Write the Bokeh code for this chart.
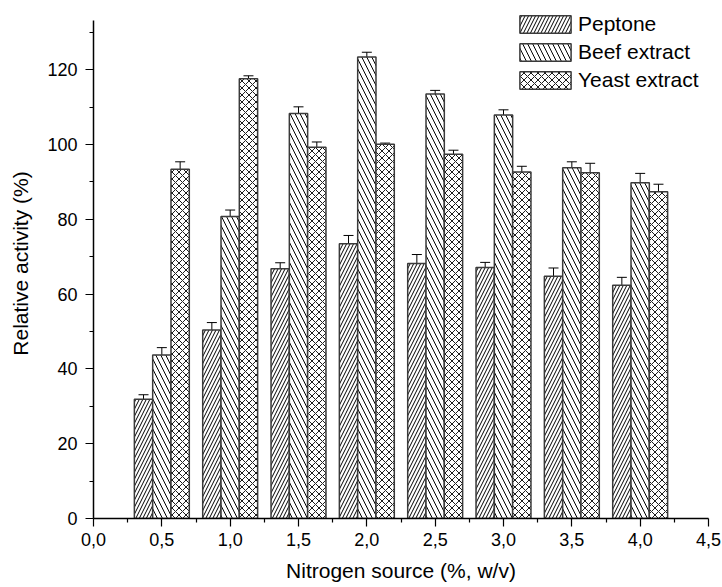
from bokeh.plotting import figure
from bokeh.models import ColumnDataSource, Whisker, TeeHead, Legend, LegendItem, CustomJSTickFormatter, FixedTicker, Range1d
from bokeh.embed import file_html
from bokeh.resources import INLINE

# ---- data ----
conc = [0.5, 1.0, 1.5, 2.0, 2.5, 3.0, 3.5, 4.0]
peptone = [31.9, 50.4, 66.8, 73.5, 68.2, 67.1, 64.8, 62.4]
peptone_err = [1.2, 2.0, 1.6, 2.2, 2.4, 1.4, 2.2, 2.1]
beef = [43.7, 80.8, 108.3, 123.4, 113.5, 107.9, 93.8, 89.8]
beef_err = [2.0, 1.7, 1.8, 1.3, 1.0, 1.4, 1.6, 2.5]
yeast = [93.4, 117.6, 99.3, 100.1, 97.4, 92.7, 92.5, 87.4]
yeast_err = [2.0, 0.8, 1.4, 0.3, 1.1, 1.5, 2.5, 2.0]
series_names = ["Peptone", "Beef extract", "Yeast extract"]
x_ticks = [0.0, 0.5, 1.0, 1.5, 2.0, 2.5, 3.0, 3.5, 4.0, 4.5]
y_ticks = [0, 20, 40, 60, 80, 100, 120]
y_axis_top = 133.2

BAR_W = 0.134
FONT = "Liberation Sans"

p = figure(frame_width=615, frame_height=510, min_border_left=93, min_border_top=8,
           min_border_right=14, min_border_bottom=10,
           x_range=Range1d(0, 4.5), y_range=Range1d(0, 136.4),
           output_backend="svg", toolbar_location=None)
p.outline_line_color = None
p.xgrid.grid_line_color = None
p.ygrid.grid_line_color = None
p.background_fill_color = "white"

series = [(peptone, peptone_err, -1, "right_diagonal_line", 7, 1.0),
          (beef, beef_err, 0, "left_diagonal_line", 10, 1.0),
          (yeast, yeast_err, 1, "diagonal_cross", 7, 0.9)]

items = []
for (vals, errs, k, hatch, scale, hw), name in zip(series, series_names):
    xs = [c + k * BAR_W for c in conc]
    src = ColumnDataSource(dict(x=xs, top=vals,
                                upper=[v + e for v, e in zip(vals, errs)],
                                lower=[v - e for v, e in zip(vals, errs)]))
    r = p.vbar(x="x", top="top", bottom=0, width=BAR_W, source=src,
               fill_color="white", line_color="#3a3a3a", line_width=1.5,
               hatch_pattern=hatch, hatch_scale=scale, hatch_color="black", hatch_weight=hw)
    w = Whisker(base="x", upper="upper", lower="lower", source=src,
                line_color="black", line_width=1,
                upper_head=TeeHead(size=10, line_color="black", line_width=1),
                lower_head=TeeHead(size=10, line_color="black", line_width=1))
    p.add_layout(w)
    items.append(LegendItem(label=name, renderers=[r]))

legend = Legend(items=items, location=(420, 426), padding=0, margin=0,
                border_line_color=None, background_fill_alpha=0,
                glyph_width=64, glyph_height=22, label_height=22, spacing=4,
                label_standoff=1, label_text_font=FONT, label_text_font_size="21px",
                label_text_color="black")
p.add_layout(legend)

fmt = CustomJSTickFormatter(code="return tick.toFixed(1).replace('.', ',');")
p.xaxis.ticker = FixedTicker(ticks=x_ticks, minor_ticks=[0.25 + 0.5 * i for i in range(9)])
p.xaxis.formatter = fmt
p.yaxis.ticker = FixedTicker(ticks=y_ticks, minor_ticks=[10, 30, 50, 70, 90, 110, 130])
p.yaxis.bounds = (0, y_axis_top)

p.xaxis.axis_label = "Nitrogen source (%, w/v)"
p.yaxis.axis_label = "Relative activity (%)"
for ax in (p.xaxis, p.yaxis):
    ax.axis_line_color = "black"
    ax.axis_line_width = 1.5
    ax.major_tick_line_color = "black"
    ax.minor_tick_line_color = "black"
    ax.major_tick_line_width = 1.2
    ax.minor_tick_line_width = 1.2
    ax.major_tick_out = 8
    ax.major_tick_in = 0
    ax.minor_tick_out = 4
    ax.minor_tick_in = 0
    ax.major_label_text_font = FONT
    ax.major_label_text_font_size = "18px"
    ax.major_label_text_color = "black"
    ax.axis_label_text_font = FONT
    ax.axis_label_text_font_size = "21px"
    ax.axis_label_text_font_style = "normal"
    ax.axis_label_text_color = "black"
p.xaxis.major_label_standoff = 6
p.xaxis.axis_label_standoff = 10
p.yaxis.major_label_standoff = 8
p.yaxis.axis_label_standoff = 12

open("out.html", "w").write(file_html(p, INLINE))
